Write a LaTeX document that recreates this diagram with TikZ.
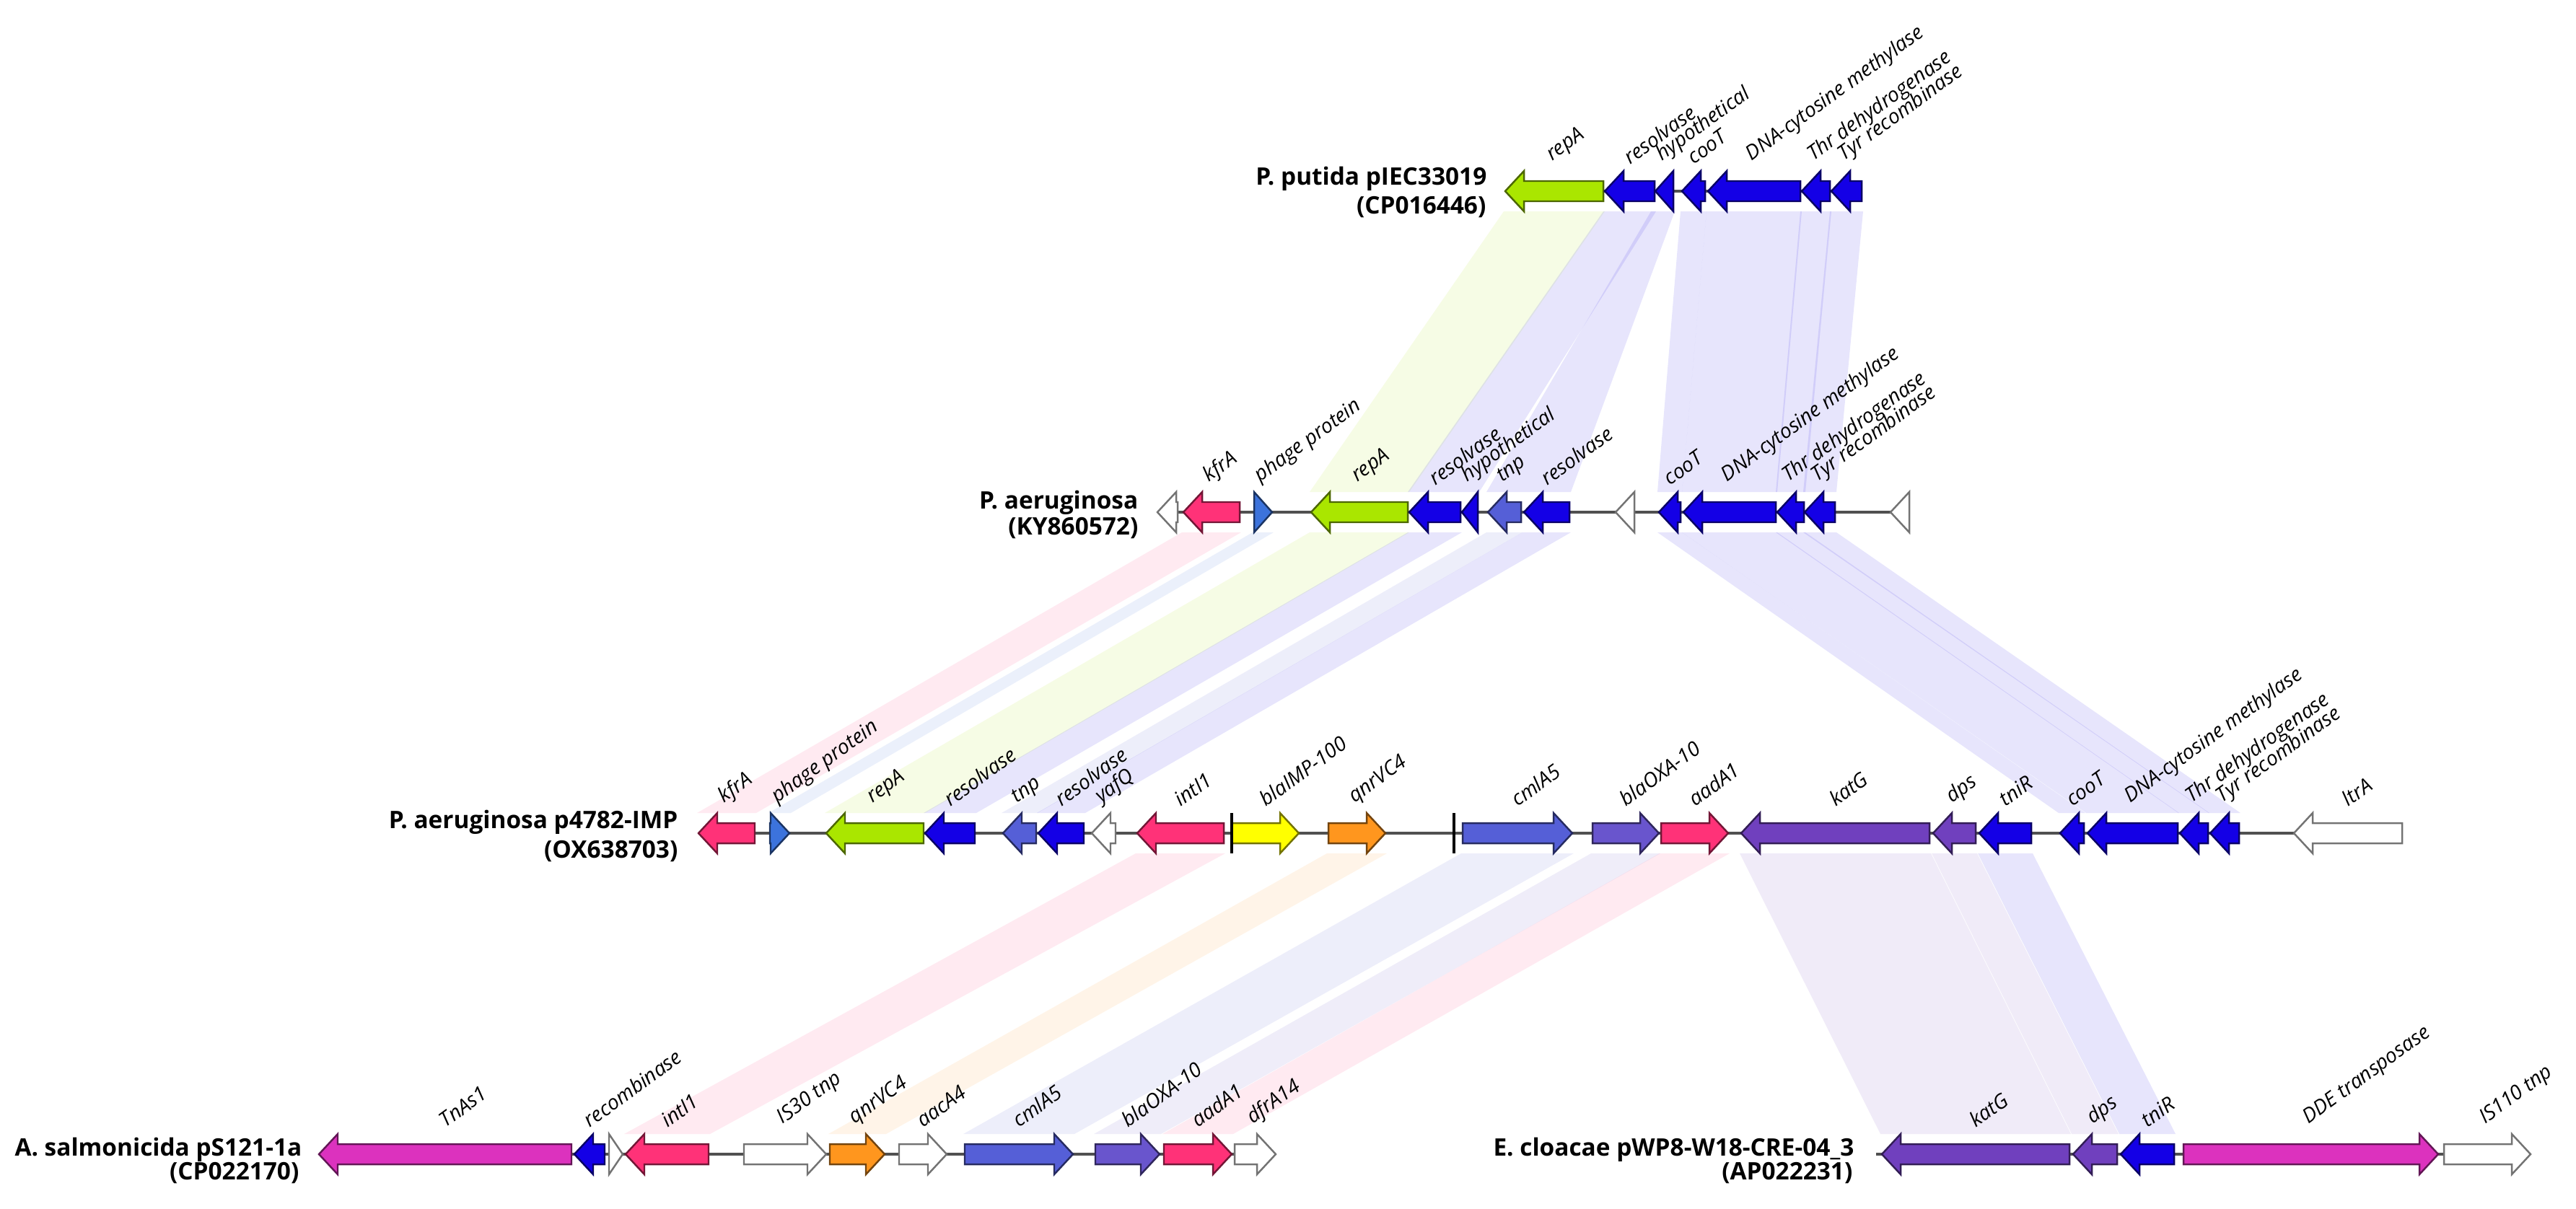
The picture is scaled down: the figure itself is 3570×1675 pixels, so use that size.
\documentclass[tikz,border=0pt]{standalone}
\usepackage{fontspec}
\setmainfont{Open Sans}
\usepackage{xcolor}
\definecolor{GeneBlue}{RGB}{20,0,230}
\definecolor{GeneLime}{RGB}{170,230,0}
\definecolor{GenePink}{RGB}{255,50,120}
\definecolor{GeneMagenta}{RGB}{220,50,190}
\definecolor{GeneSlate}{RGB}{85,95,215}
\definecolor{GeneOxa}{RGB}{105,85,205}
\definecolor{GenePurple}{RGB}{112,64,190}
\definecolor{GenePhage}{RGB}{60,115,220}
\definecolor{GeneYellow}{RGB}{255,255,0}
\definecolor{GeneOrange}{RGB}{255,150,30}
\definecolor{TrackGray}{RGB}{80,80,80}

% leftward gene: tip, end, centre y, colour
\newcommand{\geneL}[4]{%
  \pgfmathsetmacro{\hx}{min(#1+26,#2)}%
  \filldraw[gene, fill=#4, draw=#4!45!black] (#1,#3) -- (\hx,#3-28) -- (\hx,#3-14) -- (#2,#3-14)
    -- (#2,#3+14) -- (\hx,#3+14) -- (\hx,#3+28) -- cycle;%
}
% rightward gene: start, tip, centre y, colour
\newcommand{\geneR}[4]{%
  \pgfmathsetmacro{\hx}{max(#2-26,#1)}%
  \filldraw[gene, fill=#4, draw=#4!45!black] (#2,#3) -- (\hx,#3-28) -- (\hx,#3-14) -- (#1,#3-14)
    -- (#1,#3+14) -- (\hx,#3+14) -- (\hx,#3+28) -- cycle;%
}

\begin{document}
\begin{tikzpicture}[
      , x=0.1mm, y=-0.1mm
      , gene/.style={line width=0.7pt, line join=miter}
      , band/.style={fill opacity=0.1}
      , track/.style={color=TrackGray, line width=0.9pt}
      , tickmark/.style={color=black, line width=1.2pt}
      , glabel/.style={rotate=36, anchor=south west, inner sep=1pt, font=\fontsize{8}{9.5}\selectfont\itshape}
      , seqname/.style={anchor=east, inner sep=0pt, font=\fontsize{9.5}{11.5}\selectfont\bfseries}
      ]

      \useasboundingbox[fill=white] (0,0) rectangle (3570,1675);

      % homology bands: top start/end, bottom start/end, colour
      \foreach \a/\b/\c/\d/\gc in {2086/2222/1817/1951/GeneLime, 2224/2293/1953/2048/GeneBlue,
          2290/2319/2062/2175/GeneBlue, 2331/2363/2299/2329/GeneBlue,
          2367/2495/2333/2461/GeneBlue, 2497/2536/2463/2500/GeneBlue, 2538/2580/2501/2543/GeneBlue}
        \fill[band, fill=\gc] (\a-2,293) -- (\b+2,293) -- (\d+2,682) -- (\c-2,682) -- cycle;

      \foreach \a/\b/\c/\d/\gc in {1640/1718/968/1046/GenePink, 1738/1763/1067/1094/GenePhage,
          1817/1951/1145/1280/GeneLime, 1953/2024/1282/1351/GeneBlue, 2062/2108/1390/1436/GeneSlate,
          2112/2175/1439/1502/GeneBlue, 2299/2329/2855/2888/GeneBlue, 2333/2461/2893/3018/GeneBlue,
          2463/2500/3021/3060/GeneBlue, 2501/2543/3063/3103/GeneBlue}
        \fill[band, fill=\gc] (\a-2,738) -- (\b+2,738) -- (\d+2,1127) -- (\c-2,1127) -- cycle;

      \foreach \a/\b/\c/\d/\gc in {1576/1696/867/982/GenePink, 1841/1920/1150/1226/GeneOrange,
          2027/2179/1337/1487/GeneSlate, 2207/2299/1518/1607/GeneOxa, 2302/2395/1613/1707/GenePink,
          2413/2674/2608/2868/GenePurple, 2679/2738/2873/2934/GenePurple, 2743/2815/2939/3013/GeneBlue}
        \fill[band, fill=\gc] (\a-2,1183) -- (\b+2,1183) -- (\d+2,1572) -- (\c-2,1572) -- cycle;

      % P. putida
      \draw[track] (2086,265) -- (2580,265);
      \foreach \a/\b/\gc/\txt/\n in {2086/2222/GeneLime/repA/pp-repA, 2224/2293/GeneBlue/resolvase/pp-res,
          2294/2319/GeneBlue/hypothetical/pp-hyp, 2331/2363/GeneBlue/cooT/pp-coot,
          2367/2495/GeneBlue/DNA-cytosine methylase/pp-dna, 2497/2536/GeneBlue/Thr dehydrogenase/pp-thr,
          2538/2580/GeneBlue/Tyr recombinase/pp-tyr}
      {
        \geneL{\a}{\b}{265}{\gc}
        \node[glabel] (\n) at ({(\a+\b)/2},235) {\txt};
      }
      \node[seqname] (pp-name) at (2061,248) {P. putida pIEC33019};
      \node[seqname] (pp-acc) at (2060,287) {(CP016446)};

      % P. aeruginosa KY860572
      \draw[track] (1604,710) -- (2646,710);
      \geneL{1604}{1632}{710}{white}
      \geneL{2239}{2265}{710}{white}
      \geneL{2620}{2646}{710}{white}
      \geneR{1738}{1763}{710}{GenePhage}
      \node[glabel] (ky-phage) at (1750,680) {phage protein};
      \foreach \a/\b/\gc/\txt/\n in {1640/1718/GenePink/kfrA/ky-kfra, 1817/1951/GeneLime/repA/ky-repA,
          1953/2024/GeneBlue/resolvase/ky-res, 2026/2048/GeneBlue/hypothetical/ky-hyp,
          2062/2108/GeneSlate/tnp/ky-tnp, 2112/2175/GeneBlue/resolvase/ky-res2,
          2299/2329/GeneBlue/cooT/ky-coot, 2333/2461/GeneBlue/DNA-cytosine methylase/ky-dna,
          2463/2500/GeneBlue/Thr dehydrogenase/ky-thr, 2501/2543/GeneBlue/Tyr recombinase/ky-tyr}
      {
        \geneL{\a}{\b}{710}{\gc}
        \node[glabel] (\n) at ({(\a+\b)/2},680) {\txt};
      }
      \node[seqname] (ky-name) at (1578,697) {P. aeruginosa};
      \node[seqname] (ky-acc) at (1578,732) {(KY860572)};

      % P. aeruginosa p4782-IMP
      \draw[track] (968,1155) -- (3329,1155);
      \foreach \a/\b/\gc/\txt/\n in {968/1046/GenePink/kfrA/ox-kfra, 1145/1280/GeneLime/repA/ox-repA,
          1282/1351/GeneBlue/resolvase/ox-res, 1390/1436/GeneSlate/tnp/ox-tnp,
          1439/1502/GeneBlue/resolvase/ox-res2, 1513/1546/white/yafQ/ox-yafq,
          1576/1696/GenePink/intI1/ox-int, 2413/2674/GenePurple/katG/ox-katg,
          2679/2738/GenePurple/dps/ox-dps, 2743/2815/GeneBlue/tniR/ox-tnir,
          2855/2888/GeneBlue/cooT/ox-coot, 2893/3018/GeneBlue/DNA-cytosine methylase/ox-dna,
          3021/3060/GeneBlue/Thr dehydrogenase/ox-thr, 3063/3103/GeneBlue/Tyr recombinase/ox-tyr,
          3179/3329/white/ltrA/ox-ltra}
      {
        \geneL{\a}{\b}{1155}{\gc}
        \node[glabel] (\n) at ({(\a+\b)/2},1125) {\txt};
      }
      \foreach \a/\b/\gc/\txt/\n in {1067/1094/GenePhage/phage protein/ox-phage,
          1707/1800/GeneYellow/blaIMP-100/ox-imp, 1841/1920/GeneOrange/qnrVC4/ox-qnr,
          2027/2179/GeneSlate/cmlA5/ox-cml, 2207/2299/GeneOxa/blaOXA-10/ox-oxa,
          2302/2395/GenePink/aadA1/ox-aad}
      {
        \geneR{\a}{\b}{1155}{\gc}
        \node[glabel] (\n) at ({(\a+\b)/2},1125) {\txt};
      }
      \draw[tickmark] (1707,1127) -- (1707,1183);
      \draw[tickmark] (2015,1127) -- (2015,1183);
      \node[seqname] (ox-name) at (940,1140) {P. aeruginosa p4782-IMP};
      \node[seqname] (ox-acc) at (940,1180) {(OX638703)};

      % A. salmonicida
      \draw[track] (442,1600) -- (1768,1600);
      \foreach \a/\b/\gc/\txt/\n in {442/792/GeneMagenta/TnAs1/as-tnas, 796/838/GeneBlue/recombinase/as-rec,
          867/982/GenePink/intI1/as-int}
      {
        \geneL{\a}{\b}{1600}{\gc}
        \node[glabel] (\n) at ({(\a+\b)/2},1570) {\txt};
      }
      \geneR{844}{863}{1600}{white}
      \foreach \a/\b/\gc/\txt/\n in {1031/1145/white/IS30 tnp/as-is30, 1150/1226/GeneOrange/qnrVC4/as-qnr,
          1246/1312/white/aacA4/as-aac, 1337/1487/GeneSlate/cmlA5/as-cml,
          1518/1607/GeneOxa/blaOXA-10/as-oxa, 1613/1707/GenePink/aadA1/as-aad,
          1711/1768/white/dfrA14/as-dfr}
      {
        \geneR{\a}{\b}{1600}{\gc}
        \node[glabel] (\n) at ({(\a+\b)/2},1570) {\txt};
      }
      \node[seqname] (as-name) at (419,1594) {A. salmonicida pS121-1a};
      \node[seqname] (as-acc) at (415,1626) {(CP022170)};

      % E. cloacae
      \draw[track] (2600,1600) -- (3507,1600);
      \foreach \a/\b/\gc/\txt/\n in {2608/2868/GenePurple/katG/ec-katg, 2873/2934/GenePurple/dps/ec-dps,
          2939/3013/GeneBlue/tniR/ec-tnir}
      {
        \geneL{\a}{\b}{1600}{\gc}
        \node[glabel] (\n) at ({(\a+\b)/2},1570) {\txt};
      }
      \foreach \a/\b/\gc/\txt/\n in {3026/3379/GeneMagenta/DDE transposase/ec-dde,
          3387/3507/white/IS110 tnp/ec-is110}
      {
        \geneR{\a}{\b}{1600}{\gc}
        \node[glabel] (\n) at ({(\a+\b)/2},1570) {\txt};
      }
      \node[seqname] (ec-name) at (2570,1594) {E. cloacae pWP8-W18-CRE-04\_3};
      \node[seqname] (ec-acc) at (2568,1626) {(AP022231)};
    \end{tikzpicture}
\end{document}
